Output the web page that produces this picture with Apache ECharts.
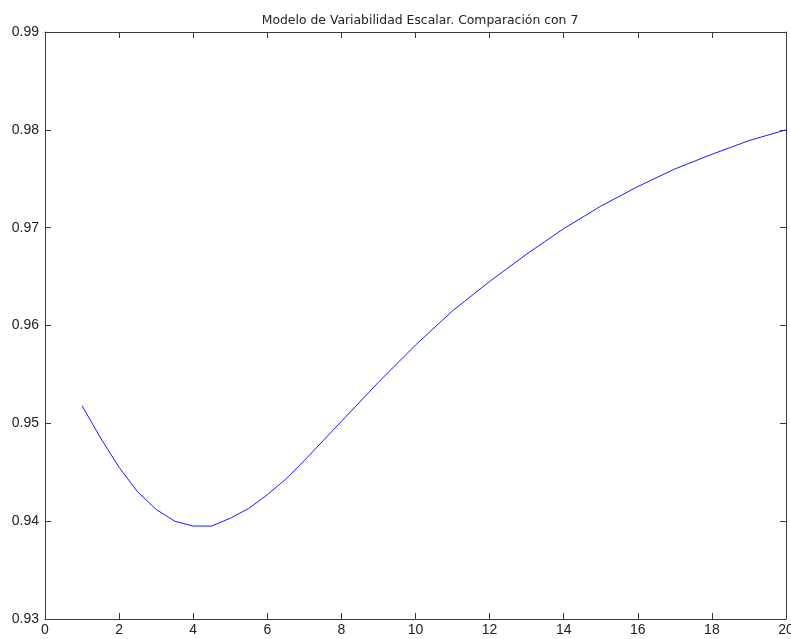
<!DOCTYPE html>
<html>
<head>
<meta charset="utf-8">
<script src="https://cdn.jsdelivr.net/npm/echarts@6/dist/echarts.min.js"></script>
<style>
  html, body { margin: 0; padding: 0; background: #fff; }
  #chart { width: 791px; height: 639px; }
</style>
</head>
<body>
<div id="chart"></div>
<script>
// Scalar variability model: sample positions and similarity values
const xValues = [1, 1.5, 2, 2.5, 3, 3.5, 4, 4.5, 5, 5.5, 6, 6.5, 7, 7.5, 8,
                 9, 10, 11, 12, 13, 14, 15, 16, 17, 18, 19, 20];
const yValues = [0.9518, 0.9485, 0.9455, 0.9430, 0.9412, 0.9400, 0.9395, 0.9395,
                 0.9403, 0.9413, 0.9427, 0.9443, 0.9462, 0.9482, 0.9502,
                 0.9542, 0.9580, 0.9615, 0.9645, 0.9673, 0.9699, 0.9722,
                 0.9742, 0.9760, 0.9775, 0.9789, 0.9800];
const titleText = 'Modelo de Variabilidad Escalar. Comparación con 7';

const points = xValues.map((x, i) => [x, yValues[i]]);

const font = 'Liberation Sans, Arial, sans-serif';
const axisColor = '#3a3a3a';
const labelColor = '#222';

const frameAxis = {
  axisLine: { show: true, onZero: false, lineStyle: { color: axisColor, width: 1 } },
  axisTick: { show: true, inside: true, length: 6, lineStyle: { color: axisColor } },
  splitLine: { show: false }
};

const chart = echarts.init(document.getElementById('chart'), null, { renderer: 'canvas' });
chart.setOption({
  animation: false,
  backgroundColor: '#ffffff',
  title: {
    text: titleText,
    left: 415,
    textAlign: 'center',
    top: 10,
    textStyle: { fontFamily: 'DejaVu Sans, sans-serif', fontSize: 12.4, fontWeight: 'normal', color: '#222' }
  },
  grid: { left: 45, right: 5, top: 32, bottom: 20, containLabel: false, outerBoundsMode: 'none' },
  xAxis: [
    Object.assign({
      type: 'value', min: 0, max: 20, interval: 2, position: 'bottom',
      axisLabel: { fontFamily: font, fontSize: 14, color: labelColor, margin: 4 }
    }, frameAxis),
    Object.assign({
      type: 'value', min: 0, max: 20, interval: 2, position: 'top',
      axisLabel: { show: false }
    }, frameAxis)
  ],
  yAxis: [
    Object.assign({
      type: 'value', min: 0.93, max: 0.99, interval: 0.01, position: 'left',
      axisLabel: {
        fontFamily: font, fontSize: 14, color: labelColor, margin: 6,
        formatter: v => v.toFixed(2)
      }
    }, frameAxis),
    Object.assign({
      type: 'value', min: 0.93, max: 0.99, interval: 0.01, position: 'right',
      axisLabel: { show: false }
    }, frameAxis)
  ],
  series: [{
    type: 'line',
    xAxisIndex: 0,
    yAxisIndex: 0,
    data: points,
    showSymbol: false,
    smooth: false,
    lineStyle: { color: '#1a1aff', width: 1 }
  }]
});
</script>
</body>
</html>
